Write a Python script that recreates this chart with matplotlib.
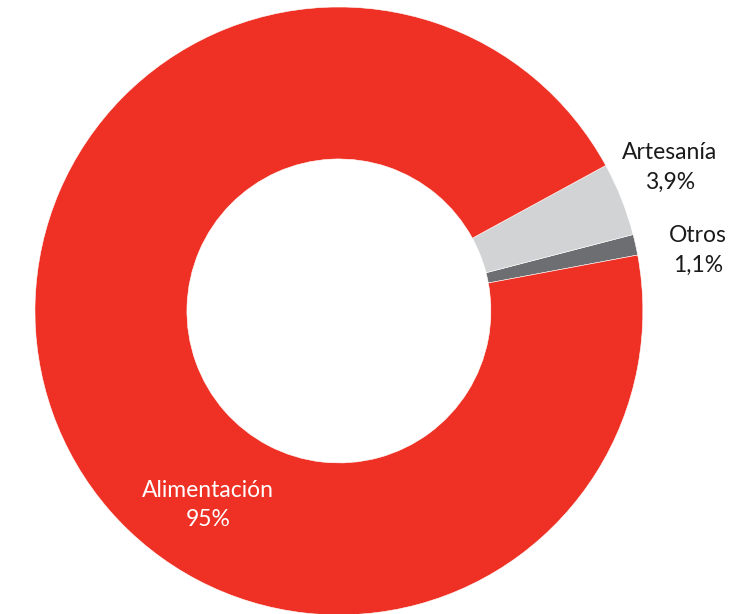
import matplotlib
matplotlib.use("Agg")
import matplotlib.pyplot as plt

# Sales share by product category
categories = ["Otros", "Artesanía", "Alimentación"]
shares = [1.1, 3.9, 95]
share_labels = ["1,1%", "3,9%", "95%"]

colors = ["#6D6E71", "#D1D3D4", "#EE3124"]
text_colors = ["#1a1a1a", "#1a1a1a", "white"]
label_pos = [(1.181, 0.20), (1.089, 0.472), (-0.431, -0.638)]

plt.rcParams["font.family"] = ["Lato", "DejaVu Sans"]

fig = plt.figure(figsize=(7.45, 6.14), dpi=100)
ax = fig.add_axes([0, 0, 1, 1])
ax.pie(shares, colors=colors, startangle=10.6, counterclock=True,
       radius=1.0, wedgeprops=dict(width=0.5, edgecolor="white", linewidth=0.4))
ax.set_xlim(-1.115, 1.336)
ax.set_ylim(-0.997, 1.023)
ax.set_aspect("equal")
ax.axis("off")

for cat, lab, col, (x, y) in zip(categories, share_labels, text_colors, label_pos):
    ax.text(x, y, f"{cat}\n{lab}", ha="center", va="center", color=col,
            fontsize=16.5, linespacing=1.5)

fig.savefig("out.png", dpi=100)
